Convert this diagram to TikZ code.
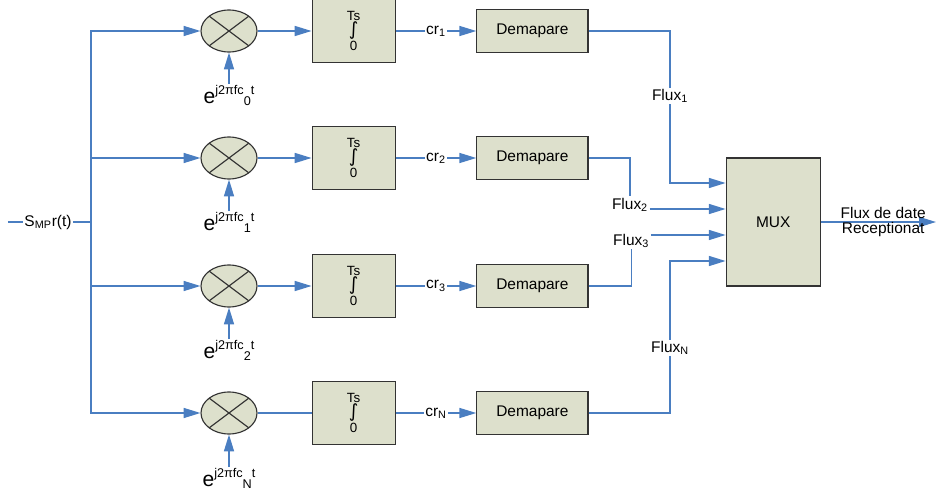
\documentclass[tikz,border=0pt]{standalone}
\usepackage{fontspec}
\setmainfont{Liberation Sans}
\newfontfamily\symbolfont{DejaVu Sans}
\usetikzlibrary{arrows.meta,shapes.geometric}

\definecolor{flowblue}{RGB}{74,126,193}
\definecolor{blockfill}{RGB}{221,224,204}

\newcommand{\expj}[1]{{\fontsize{15}{15}\selectfont e}\raisebox{6.4pt}{\fontsize{9}{9}\selectfont j2πfc\raisebox{-7.8pt}{#1}t}}
\newcommand{\integral}{Ts\\[1pt]{\symbolfont\fontsize{13}{13}\selectfont ∫}\\[1pt]0}

\begin{document}
\begin{tikzpicture}[
  flow/.style={draw=flowblue,line width=1pt},
  >={Triangle[length=0.42cm,width=0.25cm]},
  block/.style={draw=black!80,line width=0.8pt,fill=blockfill,shape=rectangle},
  mixer/.style={draw=black!80,line width=0.8pt,fill=blockfill,shape=ellipse,
    minimum width=1.4cm,minimum height=1.05cm,inner sep=0pt,
    path picture={\draw[black!80,line width=0.8pt]
      (path picture bounding box.north west) -- (path picture bounding box.south east)
      (path picture bounding box.north east) -- (path picture bounding box.south west);}},
  lbl/.style={inner sep=1pt,font=\fontsize{11}{10}\selectfont}]

  \useasboundingbox (0,0) rectangle (23.4,-12.3);

  \coordinate (in) at (0.2,-5.55);
  \coordinate (split) at (2.275,-5.55);
  \draw (1.2,-5.55) node [lbl] (smp) {S\textsubscript{MP}r(t)};

  % mixers
  \draw (5.725,-0.775) node [mixer] (mix1) {};
  \draw (5.725,-3.95) node [mixer] (mix2) {};
  \draw (5.725,-7.15) node [mixer] (mix3) {};
  \draw (5.725,-10.325) node [mixer] (mix4) {};

  \draw (5.725,-2.1) node [lbl,anchor=north] (exp1) {\expj{0}};
  \draw (5.725,-5.275) node [lbl,anchor=north] (exp2) {\expj{1}};
  \draw (5.725,-8.475) node [lbl,anchor=north] (exp3) {\expj{2}};
  \draw (5.725,-11.675) node [lbl,anchor=north] (exp4) {\expj{N}};

  % integrators
  \draw (8.84,-0.775) node [block,minimum width=2.075cm,minimum height=1.575cm,align=center,font=\fontsize{9.5}{10}\selectfont] (int1) {\integral};
  \draw (8.84,-3.95) node [block,minimum width=2.075cm,minimum height=1.575cm,align=center,font=\fontsize{9.5}{10}\selectfont] (int2) {\integral};
  \draw (8.84,-7.15) node [block,minimum width=2.075cm,minimum height=1.575cm,align=center,font=\fontsize{9.5}{10}\selectfont] (int3) {\integral};
  \draw (8.84,-10.325) node [block,minimum width=2.075cm,minimum height=1.575cm,align=center,font=\fontsize{9.5}{10}\selectfont] (int4) {\integral};

  \draw (10.9,-0.775) node [lbl] (cr1) {cr\textsubscript{1}};
  \draw (10.9,-3.95) node [lbl] (cr2) {cr\textsubscript{2}};
  \draw (10.9,-7.15) node [lbl] (cr3) {cr\textsubscript{3}};
  \draw (10.9,-10.325) node [lbl] (cr4) {cr\textsubscript{N}};

  % demappers
  \draw (13.31,-0.775) node [block,minimum width=2.78cm,minimum height=1.075cm,font=\fontsize{11}{12}\selectfont] (dem1) {Demapare};
  \draw (13.31,-3.95) node [block,minimum width=2.78cm,minimum height=1.075cm,font=\fontsize{11}{12}\selectfont] (dem2) {Demapare};
  \draw (13.31,-7.15) node [block,minimum width=2.78cm,minimum height=1.075cm,font=\fontsize{11}{12}\selectfont] (dem3) {Demapare};
  \draw (13.31,-10.325) node [block,minimum width=2.78cm,minimum height=1.075cm,font=\fontsize{11}{12}\selectfont] (dem4) {Demapare};

  \draw (19.33,-5.55) node [block,minimum width=2.35cm,minimum height=3.2cm,font=\fontsize{11}{12}\selectfont] (mux) {MUX};
  \coordinate (in1) at ([yshift=0.975cm]mux.west);
  \coordinate (in2) at ([yshift=0.325cm]mux.west);
  \coordinate (in3) at ([yshift=-0.325cm]mux.west);
  \coordinate (in4) at ([yshift=-0.975cm]mux.west);

  \draw (16.75,-2.4) node [lbl] (flux1) {Flux\textsubscript{1}};
  \draw (15.75,-5.12) node [lbl] (flux2) {Flux\textsubscript{2}};
  \draw (15.78,-6.02) node [lbl] (flux3) {Flux\textsubscript{3}};
  \draw (16.75,-8.7) node [lbl] (fluxN) {Flux\textsubscript{N}};

  \coordinate (out) at (23.4,-5.55);

  % input and branches
  \draw[flow] (in) -- (smp.west);
  \draw[flow] (smp.east) -- (split);
  \draw[flow,->] (split) |- (mix1.west);
  \draw[flow,->] (split) |- (mix2.west);
  \draw[flow,->] (split) |- (mix3.west);
  \draw[flow,->] (split) |- (mix4.west);

  \draw[flow,->] (exp1.north) -- (mix1.south);
  \draw[flow,->] (exp2.north) -- (mix2.south);
  \draw[flow,->] (exp3.north) -- (mix3.south);
  \draw[flow,->] (exp4.north) -- (mix4.south);

  \draw[flow,->] (mix1.east) -- (int1.west);
  \draw[flow,->] (mix2.east) -- (int2.west);
  \draw[flow,->] (mix3.east) -- (int3.west);
  \draw[flow] (mix4.east) -- (int4.west);

  \draw[flow] (int1.east) -- (cr1.west);
  \draw[flow] (int2.east) -- (cr2.west);
  \draw[flow] (int3.east) -- (cr3.west);
  \draw[flow] (int4.east) -- (cr4.west);
  \draw[flow,->] (cr1.east) -- (dem1.west);
  \draw[flow,->] (cr2.east) -- (dem2.west);
  \draw[flow,->] (cr3.east) -- (dem3.west);
  \draw[flow,->] (cr4.east) -- (dem4.west);

  % streams into the multiplexer
  \draw[flow] (dem1.east) -| (flux1.north);
  \draw[flow,->] (flux1.south) |- (in1);
  \draw[flow] (dem2.east) -| (flux2.north);
  \draw[flow,->] (flux2.east |- in2) -- (in2);
  \draw[flow] (dem3.east) -| (flux3.south);
  \draw[flow,->] (flux3.east |- in3) -- (in3);
  \draw[flow] (dem4.east) -| (fluxN.south);
  \draw[flow,->] (fluxN.north) |- (in4);

  \draw[flow,->] (mux.east) -- (out);
  \draw (22.08,-5.55) node [lbl,align=center] (rx) {Flux de date\\Receptionat};

\end{tikzpicture}
\end{document}
